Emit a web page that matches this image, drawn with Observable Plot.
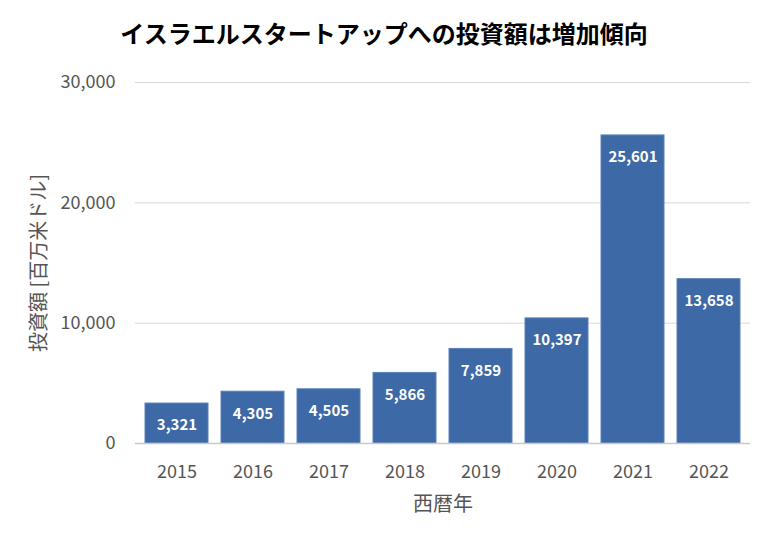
<!DOCTYPE html>
<html><head><meta charset="utf-8">
<script src="https://cdn.jsdelivr.net/npm/d3@7"></script>
<script src="https://cdn.jsdelivr.net/npm/@observablehq/plot@0.6"></script>
<style>
body{margin:0;background:#fff;font-family:"Noto Sans CJK JP","Noto Sans",sans-serif;}
#title{height:62px;line-height:66px;text-align:center;font-size:24px;font-weight:bold;color:#000;width:768px;}
</style></head>
<body>
<div id="title">イスラエルスタートアップへの投資額は増加傾向</div>
<div id="chart"></div>
<script>
const years = ["2015","2016","2017","2018","2019","2020","2021","2022"];
const amounts = [3321, 4305, 4505, 5866, 7859, 10397, 25601, 13658];
const yTicks = [0, 10000, 20000, 30000];
const data = years.map((y, i) => ({year: y, value: amounts[i]}));
const fmt = d3.format(",");
const chart = Plot.plot({
  width: 768, height: 483,
  marginLeft: 135, marginRight: 18, marginTop: 20, marginBottom: 102,
  style: {fontFamily: '"Noto Sans CJK JP","Noto Sans",sans-serif', fontSize: "18px", color: "#555", background: "#fff"},
  x: {domain: years, paddingInner: 0.17, paddingOuter: 0.085, label: null},
  y: {domain: [0, 30000], label: null},
  marks: [
    Plot.gridY(yTicks, {stroke: "#d9d9d9", strokeOpacity: 1}),
    Plot.barY(data, {x: "year", y: "value", fill: "#3d69a6", stroke: "#5b82bb", strokeWidth: 1}),
    Plot.ruleY([0], {stroke: "#c8c8c8", strokeWidth: 1.5}),
    Plot.text(data, {x: "year", y: "value", text: d => fmt(d.value), dy: 22, fill: "#fff", fontWeight: "bold", fontSize: 15}),
    Plot.axisY(yTicks, {tickSize: 0, tickPadding: 20, tickFormat: fmt, fill: "#555", fontSize: 18, label: null}),
    Plot.axisX({tickSize: 0, tickPadding: 22, fill: "#555", fontSize: 18, label: null}),
    Plot.text(["西暦年"], {frameAnchor: "bottom", dy: 67, fill: "#555", fontSize: 20}),
    Plot.text(["投資額 [百万米ドル]"], {frameAnchor: "left", dx: -96, rotate: -90, textAnchor: "middle", fill: "#555", fontSize: 20})
  ]
});
document.getElementById("chart").append(chart);
</script>
</body></html>
